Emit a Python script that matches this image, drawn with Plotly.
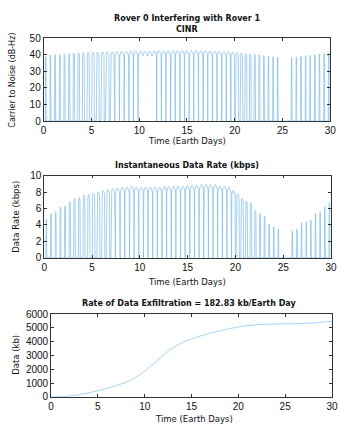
import plotly.graph_objects as go
import math

# ---------------- data ----------------
pass_start = [0.17, 0.66, 1.14, 1.63, 2.11, 2.60, 3.08, 3.57, 4.05, 4.54,
              5.03, 5.51, 6.00, 6.48, 6.97, 7.45, 7.94, 8.42, 8.91, 9.39,
              9.88, 10.37, 10.85, 11.34, 11.82, 12.31, 12.79, 13.28, 13.76, 14.25,
              14.73, 15.22, 15.70, 16.19, 16.68, 17.16, 17.65, 18.13, 18.62, 19.10,
              19.59, 20.07, 20.56, 21.04, 21.53, 22.01, 22.50, 22.99, 23.47, 23.96,
              24.44, 25.90, 26.39, 26.87, 27.36, 27.84, 28.33, 28.81, 29.30, 29.78]
pass_width = [0.08, 0.09, 0.10, 0.11, 0.12, 0.14, 0.16, 0.18, 0.20, 0.23,
              0.26, 0.29, 0.32, 0.36, 0.40, 0.44, 0.47, 0.48, 0.48, 0.48,
              0.48, 0.48, 0.48, 0.48, 0.48, 0.48, 0.48, 0.48, 0.48, 0.48,
              0.48, 0.48, 0.48, 0.48, 0.48, 0.48, 0.48, 0.48, 0.48, 0.44,
              0.38, 0.32, 0.26, 0.21, 0.17, 0.14, 0.12, 0.10, 0.09, 0.08,
              0.08, 0.08, 0.08, 0.08, 0.08, 0.08, 0.08, 0.08, 0.08, 0.08]
cinr_peak = [39.2, 40.0, 40.0, 40.3, 40.5, 40.8, 41.0, 41.2, 41.3, 41.5,
             41.6, 41.7, 41.8, 41.9, 42.0, 42.1, 42.2, 42.3, 42.3, 42.4,
             42.4, 42.4, 42.4, 42.5, 42.5, 42.5, 42.5, 42.5, 42.6, 42.6,
             42.6, 42.6, 42.6, 42.6, 42.6, 42.5, 42.4, 42.2, 42.0, 41.8,
             41.6, 41.4, 41.1, 40.8, 40.5, 40.2, 39.9, 39.6, 39.2, 38.9,
             38.7, 38.5, 38.8, 39.2, 39.5, 39.8, 40.1, 40.5, 40.8, 41.1]
rate_peak = [4.7, 5.4, 5.6, 6.2, 6.3, 6.8, 7.2, 7.3, 7.6, 7.7,
             7.9, 8.0, 8.2, 8.3, 8.4, 8.5, 8.6, 8.6, 8.7, 8.6,
             8.6, 8.6, 8.6, 8.6, 8.6, 8.7, 8.7, 8.7, 8.7, 8.7,
             8.8, 8.8, 8.8, 8.9, 8.9, 8.9, 8.9, 8.7, 8.7, 8.6,
             8.2, 7.8, 7.2, 6.9, 6.7, 5.8, 5.4, 5.1, 4.1, 3.8,
             3.5, 3.3, 3.5, 4.3, 4.4, 4.6, 5.4, 5.6, 6.2, 6.7]
# passes whose end does not fall back to zero in the CINR trace
cinr_link_kept = [20, 21, 22]

cum_days = list(range(0, 31))
cum_data = [0, 20, 70, 170, 300, 450, 630, 840, 1060, 1400,
            1860, 2430, 3030, 3550, 3930, 4200, 4420, 4620, 4780, 4930,
            5070, 5160, 5230, 5260, 5280, 5290, 5300, 5320, 5350, 5420, 5485]

x_ticks = [0, 5, 10, 15, 20, 25, 30]
cinr_ticks = [0, 10, 20, 30, 40, 50]
rate_ticks = [0, 2, 4, 6, 8, 10]
cum_ticks = [0, 1000, 2000, 3000, 4000, 5000, 6000]

PERIOD = 0.4855
ARCH = [0.1, 0.25, 0.5, 0.75, 0.9]


def build(peaks, dip, kept):
    xs, ys = [], []
    for i, (s, w, p) in enumerate(zip(pass_start, pass_width, peaks)):
        e = s + w
        edge = p - dip * (w / PERIOD)
        if not (i - 1 in kept):
            xs.append(s); ys.append(0)
        xs.append(s + 0.03); ys.append(edge)
        for f in ARCH:
            xs.append(s + f * w); ys.append(edge + (p - edge) * math.sin(math.pi * f))
        xs.append(e - 0.01); ys.append(edge)
        if i not in kept:
            xs.append(e + 0.02); ys.append(0)
    return xs, ys


cx, cy = build(cinr_peak, 3.0, cinr_link_kept)
rx, ry = build(rate_peak, 0.7, [])

LINE = "#7dbbe8"
FONT = "DejaVu Sans"
TICKFONT = "Liberation Sans"
fig = go.Figure()
fig.add_trace(go.Scatter(x=cx, y=cy, mode="lines", line=dict(color=LINE, width=0.7),
                         xaxis="x", yaxis="y", showlegend=False))
fig.add_trace(go.Scatter(x=rx, y=ry, mode="lines", line=dict(color=LINE, width=0.7),
                         xaxis="x2", yaxis="y2", showlegend=False))
fig.add_trace(go.Scatter(x=cum_days, y=cum_data, mode="lines", line=dict(color="#a3d6f3", width=1, shape="spline"),
                         xaxis="x3", yaxis="y3", showlegend=False))

W, H = 350, 438


def ax(domain, rng, ticks, anchor):
    return dict(domain=domain, range=rng, tickvals=ticks, ticktext=[str(t) for t in ticks],
                ticks="inside", ticklen=3, tickwidth=0.8, tickcolor="#333",
                showline=True, linecolor="#333", linewidth=0.8, mirror="ticks",
                showgrid=False, zeroline=False, anchor=anchor,
                tickfont=dict(family=TICKFONT, size=10, color="#111"))


fig.update_layout(
    width=W, height=H, margin=dict(l=0, r=0, t=0, b=0),
    paper_bgcolor="white", plot_bgcolor="white",
    xaxis=ax([41.7 / W, 336 / W], [0, 30], x_ticks, "y"),
    yaxis=ax([1 - 118.3 / H, 1 - 33.3 / H], [0, 50], cinr_ticks, "x"),
    xaxis2=ax([42.3 / W, 336.7 / W], [0, 30], x_ticks, "y2"),
    yaxis2=ax([1 - 259 / H, 1 - 174.3 / H], [0, 10], rate_ticks, "x2"),
    xaxis3=ax([49.3 / W, 337.7 / W], [0, 30], x_ticks, "y3"),
    yaxis3=ax([1 - 402 / H, 1 - 316.7 / H], [0, 6000], cum_ticks, "x3"),
)


def text(s, x, y, size=8.5, bold=False, angle=0):
    fig.add_annotation(text=f"<b>{s}</b>" if bold else s, x=x / W, y=1 - y / H,
                       xref="paper", yref="paper", showarrow=False, textangle=angle,
                       xanchor="center", yanchor="middle",
                       font=dict(family=FONT, size=size, color="#111"))


text("Rover 0 Interfering with Rover 1", 189, 13, 8, True)
text("CINR", 189, 24, 8, True)
text("Carrier to Noise (dB-Hz)", 10, 76, 8, angle=-90)
text("Time (Earth Days)", 189, 139, 8.5)
text("Instantaneous Data Rate (kbps)", 189, 164, 8, True)
text("Data Rate (kbps)", 13, 217, 8.5, angle=-90)
text("Time (Earth Days)", 189, 284, 8.5)
text("Rate of Data Exfiltration = 182.83 kb/Earth Day", 191, 305.5, 8, True)
text("Data (kb)", 13, 359, 8.5, angle=-90)
text("Time (Earth Days)", 196, 425, 8.5)

fig.write_html("out.html")
